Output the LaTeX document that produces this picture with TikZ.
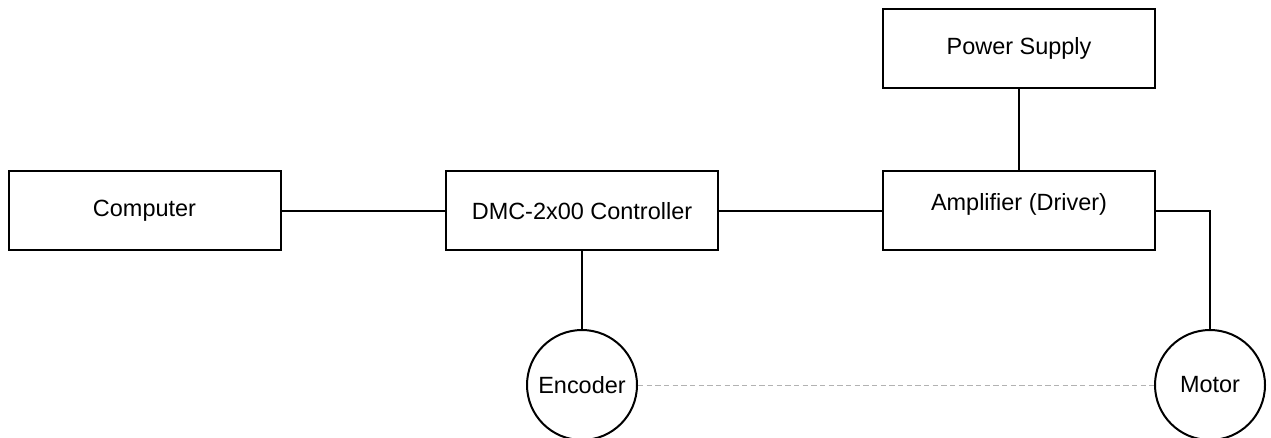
\documentclass[tikz,border=0pt]{standalone}
\usepackage{fontspec}
\setmainfont{Liberation Sans}
\begin{document}
\begin{tikzpicture}[x=0.75pt,y=-0.75pt,
  box/.style={draw,line width=1.5pt,minimum width=272*0.75pt,minimum height=79*0.75pt,inner sep=0pt,font=\fontsize{17.6}{20}\selectfont},
  disc/.style={draw,circle,line width=1.5pt,minimum size=110*0.75pt,inner sep=0pt,font=\fontsize{17.6}{20}\selectfont},
  wire/.style={line width=1.5pt},
  link/.style={line width=0.6pt,draw=black!30,dash pattern=on 4pt off 2.5pt}]
\useasboundingbox (0,0) rectangle (1271,438);
\node[box] (comp) at (144.5,211) {Computer};
\node[box] (dmc) at (582,211) {DMC-2x00 Controller};
\node[box] (amp) at (1019,211) {};
\node[anchor=center,font=\fontsize{17.6}{20}\selectfont] (amptext) at (1019,204) {Amplifier (Driver)};
\node[box] (ps) at (1019,48.5) {Power Supply};
\node[disc] (enc) at (582,385) {Encoder};
\node[disc] (mot) at (1210,385) {Motor};
\coordinate (bend) at (1210,211);
\draw[wire] (comp.east) -- (dmc.west);
\draw[wire] (dmc.east) -- (amp.west);
\draw[wire] (ps.south) -- (amp.north);
\draw[wire] (dmc.south) -- (enc.north);
\draw[wire] (amp.east) -- (bend) -- (mot.north);
\draw[link] (enc.east) -- (mot.west);
\end{tikzpicture}
\end{document}
